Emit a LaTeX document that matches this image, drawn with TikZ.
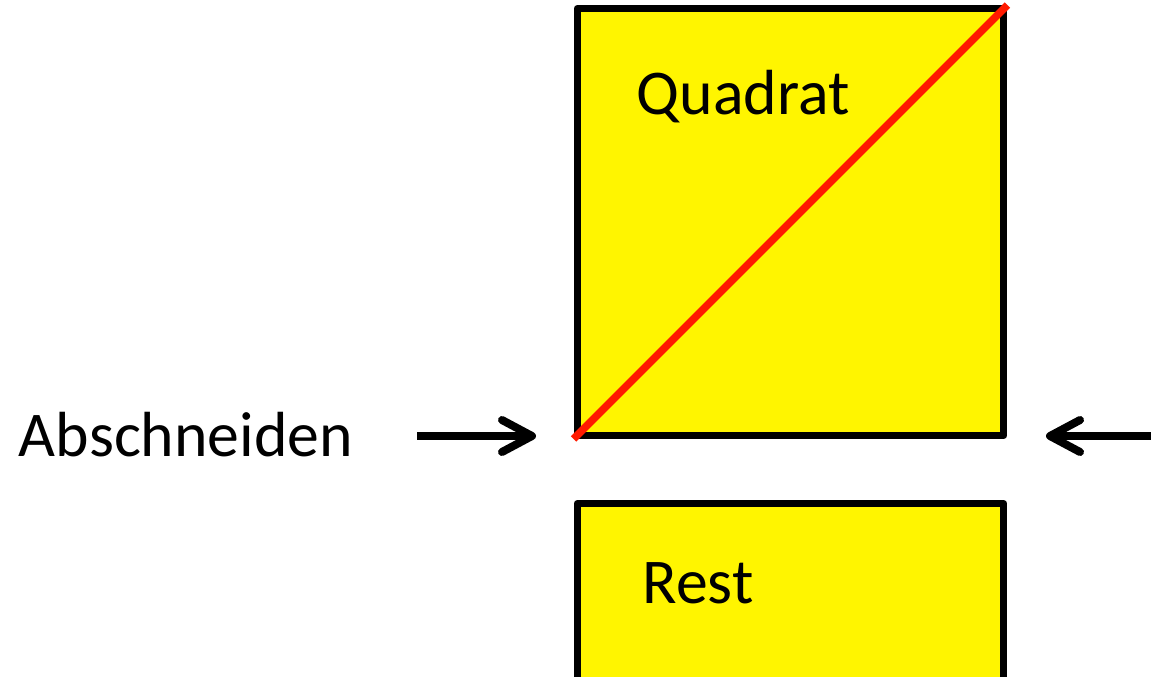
\documentclass[tikz,border=0pt]{standalone}
\usepackage{fontspec}
\setmainfont{Carlito}
\usepackage{tikz}
\usetikzlibrary{arrows.meta,positioning}
\definecolor{sheetyellow}{HTML}{FFF500}
\definecolor{cutred}{HTML}{FF1A00}
\tikzset{
  sheet/.style={draw=black,fill=sheetyellow,line width=0.14cm,line join=round,inner sep=0pt},
  cutline/.style={cutred,line width=0.15cm},
  pusharrow/.style={-{Straight Barb[length=0.6cm,width=0.64cm,round]},line width=0.16cm},
  bigtext/.style={font=\fontsize{36.3}{42}\selectfont,inner sep=0pt}
}

\begin{document}
\begin{tikzpicture}[x=0.02cm,y=-0.02cm]
  \useasboundingbox (0,0) rectangle (1151,676);
  \clip (0,0) rectangle (1151,676);
  \node[sheet,minimum width=8.54cm,minimum height=8.54cm] (quad) at (790.5,222) {};
  \node[sheet,minimum width=8.54cm,minimum height=4.4cm,anchor=north] (rest) at (790.5,500) {};
  \draw[cutline] (quad.south west) -- (quad.north east);
  \node[bigtext] (quadlabel) at (743,97) {Quadrat};
  \node[bigtext] (restlabel) at (698,583) {Rest};
  \node[bigtext] (abschn) at (186,435) {Abschneiden};
  \coordinate (lstart) at (417,436);
  \coordinate (lend) at (536,436);
  \coordinate (rstart) at (1160,436);
  \coordinate (rend) at (1046,436);
  \draw[pusharrow] (lstart) -- (lend);
  \draw[pusharrow] (rstart) -- (rend);
\end{tikzpicture}
\end{document}
